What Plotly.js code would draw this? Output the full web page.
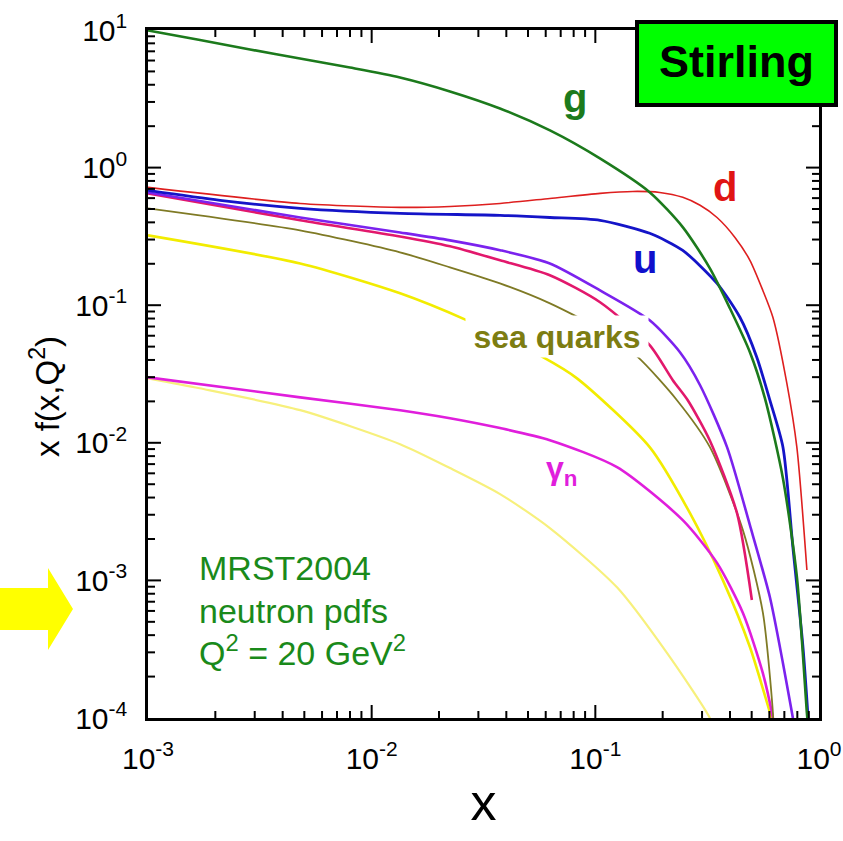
<!DOCTYPE html>
<html>
<head>
<meta charset="utf-8">
<script src="https://cdn.plot.ly/plotly-3.0.1.min.js"></script>
<style>
  html, body { margin: 0; padding: 0; background: #ffffff; }
  #chart { width: 843px; height: 841px; }
</style>
</head>
<body>
<div id="chart"></div>
<script>
// MRST2004 neutron parton distributions, x f(x,Q^2) at Q^2 = 20 GeV^2

// gluon
const gX = [0.001, 0.001708, 0.002858, 0.004779, 0.007996, 0.01338, 0.02239, 0.03746, 0.06268, 0.1048, 0.1754, 0.2464, 0.3253, 0.3996, 0.4911, 0.5729, 0.6897, 0.7967, 0.8828, 0.892];
const gY = [9.92, 8.46, 7.22, 6.21, 5.34, 4.52, 3.58, 2.69, 1.863, 1.166, 0.660, 0.368, 0.1854, 0.0950, 0.0455, 0.0211, 0.00553, 0.001057, 1.087e-4, 9e-5];

// d quark (neutron)
const dX = [0.001, 0.00479, 0.0134, 0.0224, 0.0375, 0.0626, 0.105, 0.147, 0.194, 0.246, 0.294, 0.35, 0.421, 0.491, 0.561, 0.622, 0.718, 0.796, 0.883];
const dY = [0.718, 0.549, 0.514, 0.522, 0.549, 0.597, 0.650, 0.671, 0.66, 0.608, 0.532, 0.434, 0.311, 0.212, 0.128, 0.0817, 0.0271, 0.00929, 0.00119];

// u quark (neutron)
const uX = [0.001, 0.0021, 0.00479, 0.0134, 0.0375, 0.0626, 0.105, 0.175, 0.246, 0.35, 0.443, 0.527, 0.603, 0.690, 0.764, 0.848, 0.898];
const uY = [0.683, 0.578, 0.506, 0.465, 0.45, 0.434, 0.414, 0.333, 0.25, 0.144, 0.0817, 0.0419, 0.0204, 0.0093, 0.00175, 3.28e-4, 9e-5];

// sea quark curves
const violetX = [0.001, 0.00479, 0.0134, 0.0224, 0.0375, 0.0626, 0.105, 0.175, 0.239, 0.294, 0.388, 0.491, 0.603, 0.690, 0.757, 0.773];
const violetY = [0.66, 0.434, 0.338, 0.296, 0.251, 0.201, 0.128, 0.0776, 0.0455, 0.0262, 0.0093, 0.00252, 7.57e-4, 2.5e-4, 1.09e-4, 9e-5];

const crimsonX = [0.001, 0.00479, 0.0134, 0.0224, 0.0375, 0.0626, 0.105, 0.175, 0.222, 0.259, 0.325, 0.43, 0.501];
const crimsonY = [0.65, 0.414, 0.316, 0.268, 0.212, 0.165, 0.105, 0.0512, 0.0285, 0.0204, 0.0104, 0.00308, 7.2e-4];

const oliveX = [0.001, 0.004779, 0.01338, 0.02239, 0.03746, 0.06268, 0.1048, 0.1550, 0.2317, 0.3253, 0.4568, 0.5614, 0.6222, 0.6247];
const oliveY = [0.5055, 0.3499, 0.2422, 0.1884, 0.1442, 0.1032, 0.0668, 0.0419, 0.0204, 0.0093, 0.00232, 5.8e-4, 1.09e-4, 9e-5];

const yellowX = [0.001, 0.00479, 0.0134, 0.0267, 0.0583, 0.0828, 0.175, 0.265, 0.372, 0.491, 0.603, 0.625];
const yellowY = [0.322, 0.201, 0.122, 0.0776, 0.0419, 0.0294, 0.0093, 0.00308, 0.001, 3.28e-4, 1.1e-4, 9e-5];

// photon in the neutron
const photonX = [0.001, 0.00479, 0.0134, 0.0224, 0.0375, 0.0626, 0.125, 0.246, 0.35, 0.457, 0.561, 0.622, 0.632];
const photonY = [0.0299, 0.0214, 0.01726, 0.0151, 0.0128, 0.01045, 0.00665, 0.00274, 0.00134, 5.8e-4, 2.12e-4, 1.0e-4, 8.5e-5];

const paleX = [0.001, 0.0017, 0.00479, 0.0134, 0.0224, 0.0375, 0.0626, 0.125, 0.209, 0.325, 0.335];
const paleY = [0.0294, 0.0249, 0.01726, 0.00977, 0.00655, 0.00424, 0.0024, 8.9e-4, 2.97e-4, 1.0e-4, 8.5e-5];

// axis ranges (log10) and tick labels
const X_RANGE = [-3, 0];
const Y_RANGE = [-4, 1];
const xTickVals = [1e-3, 1e-2, 1e-1, 1];
const xTickText = ['10<sup>-3</sup>', '10<sup>-2</sup>', '10<sup>-1</sup>', '10<sup>0</sup>'];
const yTickVals = [1e-4, 1e-3, 1e-2, 1e-1, 1, 10];
const yTickText = ['10<sup>-4</sup>', '10<sup>-3</sup>', '10<sup>-2</sup>', '10<sup>-1</sup>', '10<sup>0</sup>', '10<sup>1</sup>'];

function minorDecades(lo, hi) {
  const v = [];
  for (let e = lo; e < hi; e++) for (let k = 2; k <= 9; k++) v.push(k * Math.pow(10, e));
  return v;
}

const W = 843, H = 841;
const M = { l: 148, r: 24, t: 30, b: 123 };
const PW = W - M.l - M.r, PH = H - M.t - M.b;
const px = v => (v - M.l) / PW;
const py = v => (H - M.b - v) / PH;

const FONT = 'Liberation Sans, Arial, Helvetica, sans-serif';

function curve(x, y, color, width) {
  return { x, y, type: 'scatter', mode: 'lines', line: { color, width, shape: 'spline', smoothing: 0.7 },
           hoverinfo: 'skip', showlegend: false };
}

const traces = [
  curve(paleX, paleY, '#f7f07c', 2.2),
  curve(yellowX, yellowY, '#f2ec00', 2.6),
  curve(photonX, photonY, '#e01edc', 2.6),
  curve(oliveX, oliveY, '#7f7a25', 1.8),
  curve(crimsonX, crimsonY, '#e2186c', 2.6),
  curve(violetX, violetY, '#7b22ee', 2.6),
  curve(dX, dY, '#de1f1f', 1.6),
  curve(uX, uY, '#1414c8', 2.8),
  curve(gX, gY, '#1c7a1c', 2.6)
];

// inward tick marks on all four sides (major at decades, minor at 2..9)
const tickShapes = [];
function tickLine(x0, x1, y0, y1) {
  return { type: 'line', xref: 'paper', yref: 'paper', x0, x1, y0, y1,
           line: { color: '#000000', width: 2 }, layer: 'above' };
}
function xTicks(vals, len) {
  vals.forEach(v => {
    const xp = (Math.log10(v) - X_RANGE[0]) / (X_RANGE[1] - X_RANGE[0]);
    if (xp <= 0 || xp >= 1) return;
    tickShapes.push(tickLine(xp, xp, 0, len / PH));
    tickShapes.push(tickLine(xp, xp, 1, 1 - len / PH));
  });
}
function yTicks(vals, len) {
  vals.forEach(v => {
    const yp = (Math.log10(v) - Y_RANGE[0]) / (Y_RANGE[1] - Y_RANGE[0]);
    if (yp <= 0 || yp >= 1) return;
    tickShapes.push(tickLine(0, len / PW, yp, yp));
    tickShapes.push(tickLine(1, 1 - len / PW, yp, yp));
  });
}
xTicks(xTickVals, 13);
xTicks(minorDecades(X_RANGE[0], X_RANGE[1]), 7);
yTicks(yTickVals, 13);
yTicks(minorDecades(Y_RANGE[0], Y_RANGE[1]), 7);

const axisCommon = {
  type: 'log',
  showline: true, linecolor: '#000', linewidth: 2.5, mirror: true,
  ticks: 'inside', ticklen: 13, tickwidth: 2, tickcolor: 'rgba(0,0,0,0)',
  showgrid: false, zeroline: false,
  tickmode: 'array',
  tickfont: { family: FONT, size: 30, color: '#000' }
};

const ann = (x, y, text, font, extra) => Object.assign({
  xref: 'paper', yref: 'paper', x: px(x), y: py(y), text, showarrow: false,
  xanchor: 'center', yanchor: 'middle', font: Object.assign({ family: FONT }, font)
}, extra || {});

const layout = {
  width: W, height: H,
  margin: M,
  paper_bgcolor: '#ffffff', plot_bgcolor: '#ffffff',
  font: { family: FONT },
  xaxis: Object.assign({}, axisCommon, {
    range: X_RANGE,
    tickvals: xTickVals, ticktext: xTickText,
    ticklabelstandoff: 12,
    title: { text: 'x', font: { family: FONT, size: 52, color: '#000' }, standoff: 10 }
  }),
  yaxis: Object.assign({}, axisCommon, {
    range: Y_RANGE,
    tickvals: yTickVals, ticktext: yTickText,
    ticklabelstandoff: 12
  }),
  shapes: tickShapes.concat([
    { type: 'path', xref: 'paper', yref: 'paper', layer: 'above',
      path: `M ${px(0)},${py(588)} L ${px(48)},${py(588)} L ${px(48)},${py(568)} L ${px(73)},${py(609)} L ${px(48)},${py(650)} L ${px(48)},${py(630)} L ${px(0)},${py(630)} Z`,
      fillcolor: '#ffff00', line: { width: 0 } },
    { type: 'rect', xref: 'paper', yref: 'paper', layer: 'above',
      x0: px(637), x1: px(836), y0: py(105), y1: py(22),
      fillcolor: '#00ff00', line: { color: '#000', width: 4 } }
  ]),
  annotations: [
    ann(736.5, 62, 'Stirling', { size: 45, color: '#000', weight: 'bold' }),
    ann(45, 397, 'x f(x,Q<sup>2</sup>)', { size: 33, color: '#000' }, { textangle: -90 }),
    ann(575, 98, 'g', { size: 40, color: '#1c7a1c', weight: 'bold' }),
    ann(725, 187, 'd', { size: 40, color: '#e01414', weight: 'bold' }),
    ann(645, 259, 'u', { size: 40, color: '#1010cc', weight: 'bold' }),
    ann(557, 336.5, 'sea quarks', { size: 32, color: '#7d7d12', weight: 'bold' },
        { width: 182, height: 41, borderpad: 0, bgcolor: '#ffffff' }),
    ann(561, 470, '\u03b3<sub>n</sub>', { size: 32, color: '#e01edc', weight: 'bold' }),
    ann(197, 568, 'MRST2004', { size: 34, color: '#1a8a1a' }, { xanchor: 'left' }),
    ann(197, 611, 'neutron pdfs', { size: 34, color: '#1a8a1a' }, { xanchor: 'left' }),
    ann(197, 650, 'Q<sup>2</sup> = 20 GeV<sup>2</sup>', { size: 34, color: '#1a8a1a' }, { xanchor: 'left' })
  ]
};

Plotly.newPlot('chart', traces, layout, { displayModeBar: false });
</script>
</body>
</html>
